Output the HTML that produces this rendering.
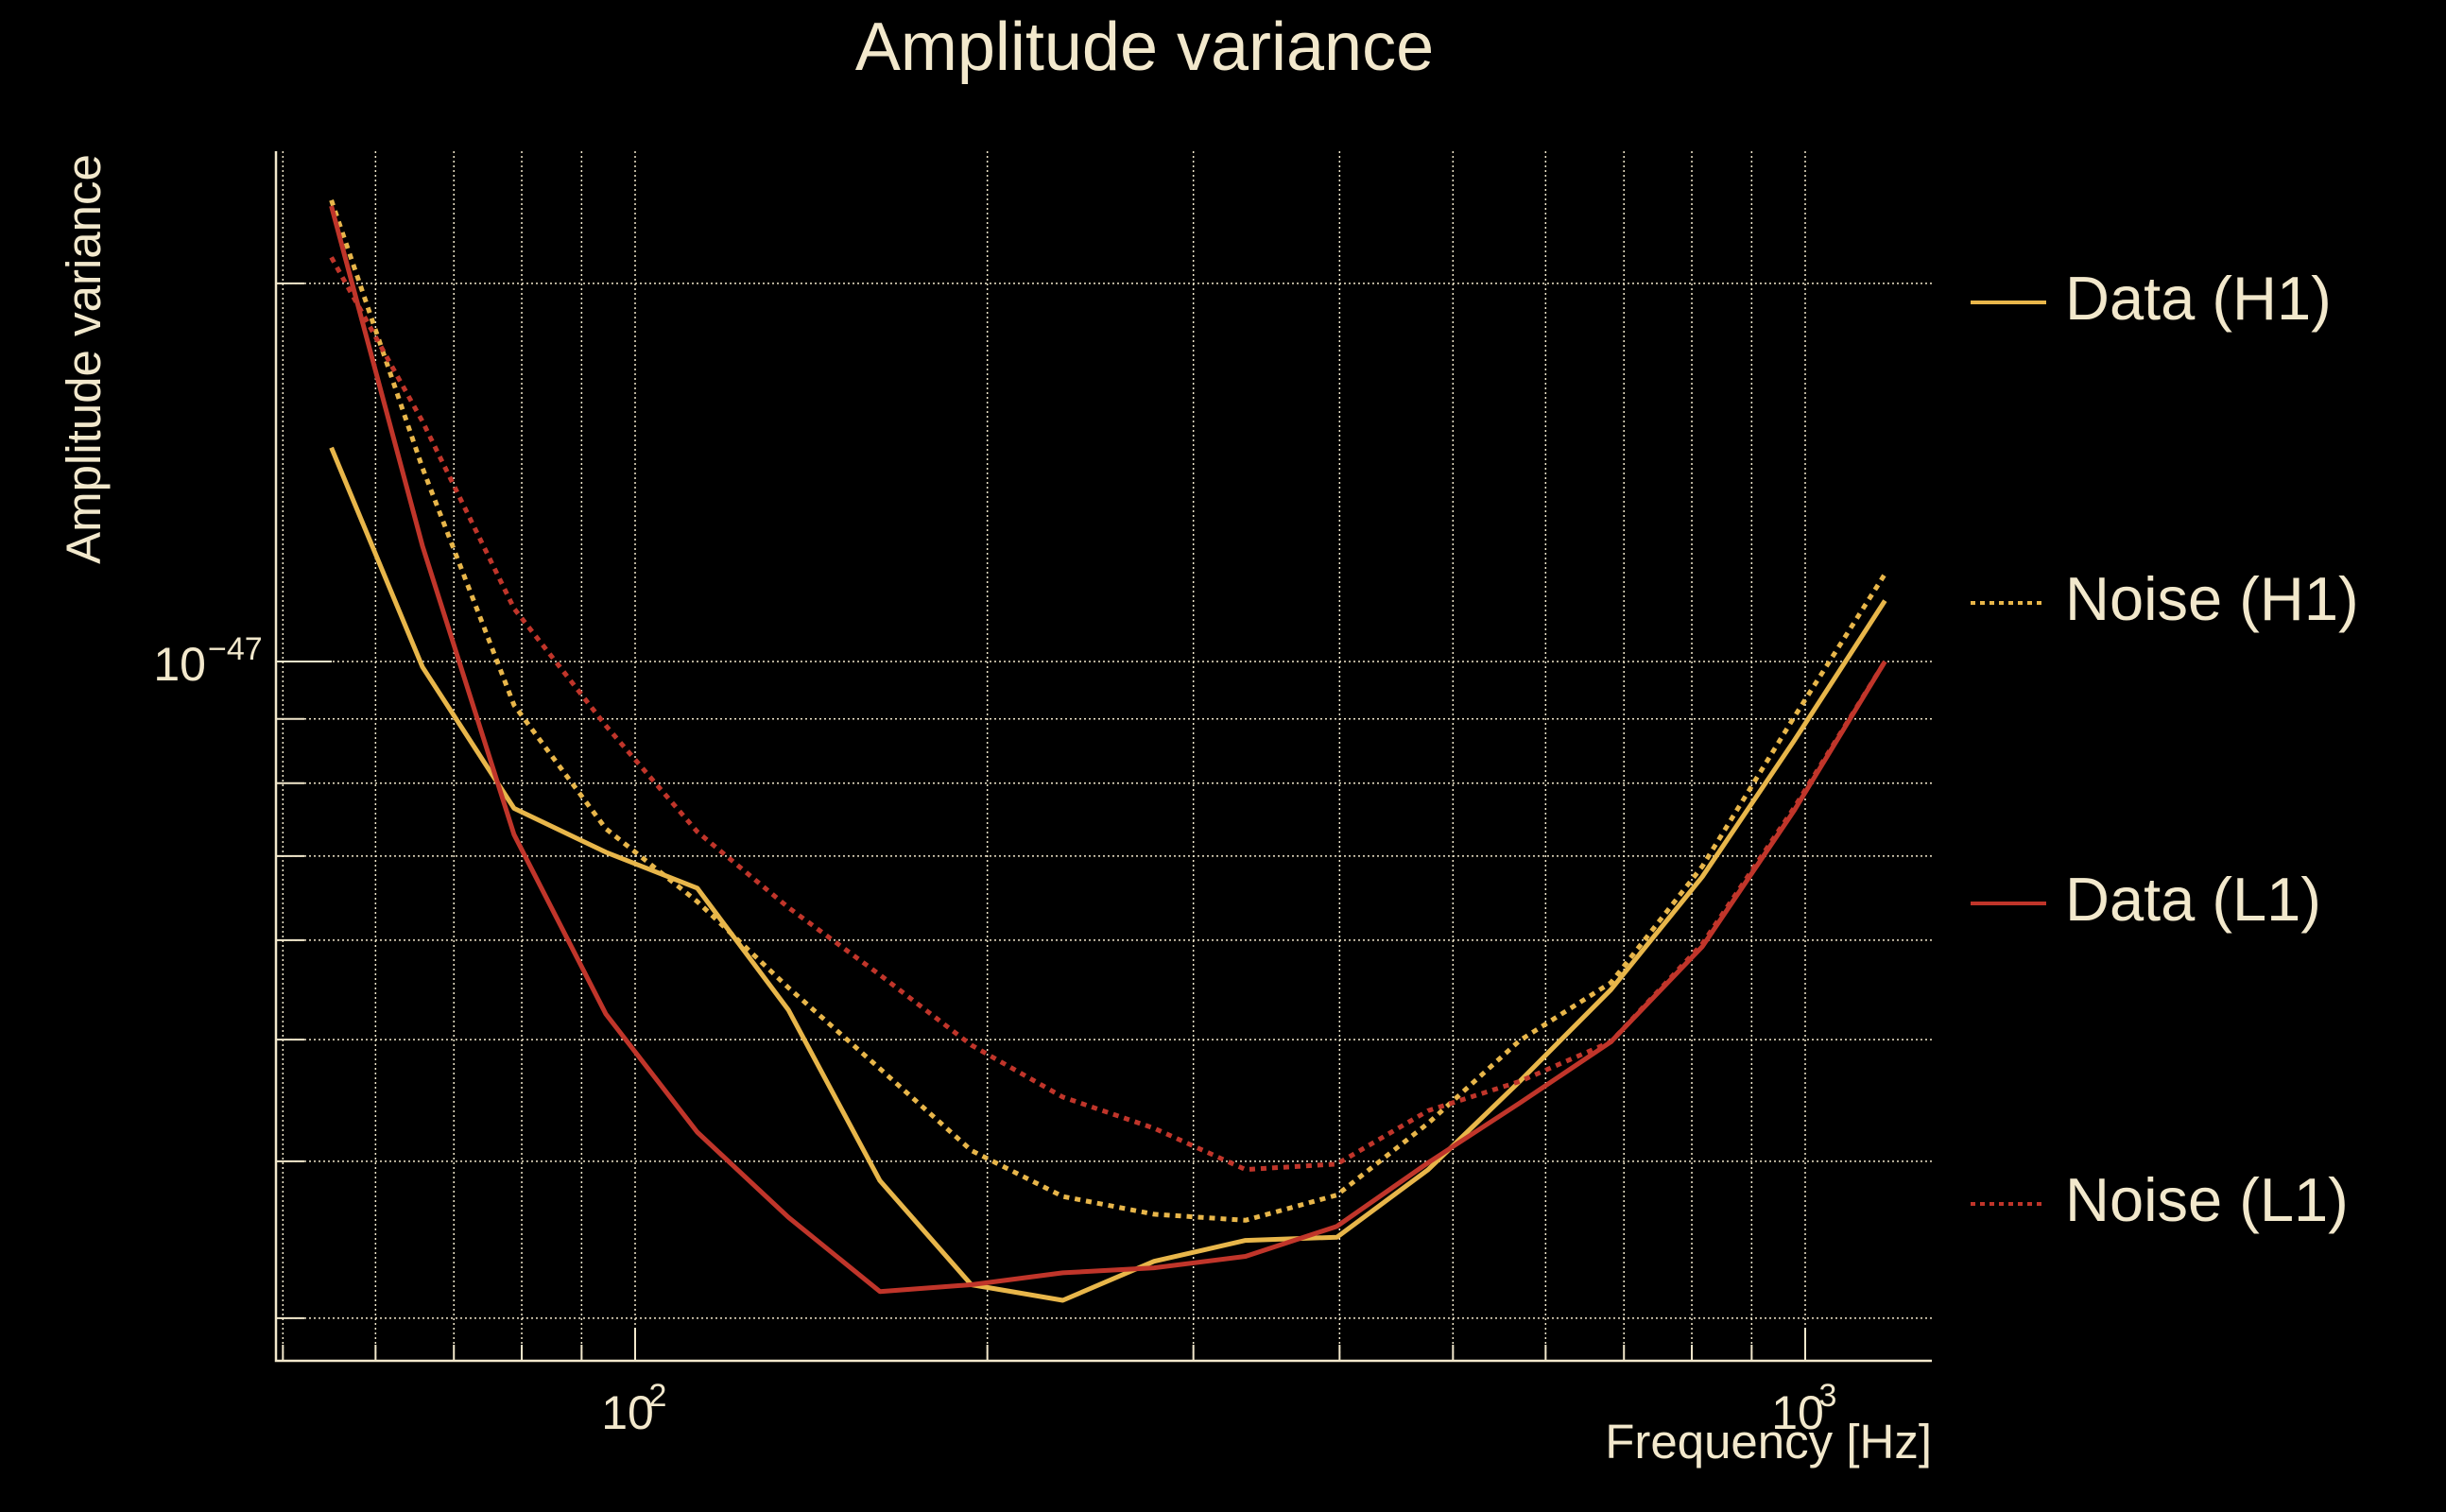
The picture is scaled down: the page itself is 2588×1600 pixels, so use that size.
<!DOCTYPE html>
<html><head><meta charset="utf-8"><style>
html,body{margin:0;padding:0;background:#000;}
svg{display:block;}
text{font-family:"Liberation Sans",sans-serif;fill:#f2e8cc;}
</style></head><body>
<svg id="chart" width="2588" height="1600" viewBox="0 0 2588 1600" xmlns="http://www.w3.org/2000/svg">
<rect width="2588" height="1600" fill="#000"/>
<text x="1211" y="74" font-size="72" text-anchor="middle">Amplitude variance</text>
<text transform="translate(106,380) rotate(-90)" font-size="51" text-anchor="middle">Amplitude variance</text>
<text x="2044" y="1543" font-size="51" text-anchor="end">Frequency [Hz]</text>
<g id="grid"></g>
<g id="axes"></g>
<g id="series"></g>
<g id="legend"></g>
</svg>
<script>
const freqs = [55, 65.8, 78.8, 94.4, 113, 135.2, 161.9, 193.8, 232, 277.7, 332.4, 397.9, 476.3, 570, 682.4, 816.8, 977.7, 1170];
const dataH1 = [1.48, 0.99, 0.764, 0.705, 0.660, 0.528, 0.386, 0.319, 0.310, 0.333, 0.346, 0.348, 0.394, 0.463, 0.548, 0.674, 0.864, 1.118];
const noiseH1 = [2.33, 1.426, 0.923, 0.736, 0.644, 0.550, 0.474, 0.408, 0.375, 0.363, 0.359, 0.376, 0.429, 0.499, 0.555, 0.687, 0.902, 1.174];
const dataL1 = [2.305, 1.236, 0.728, 0.524, 0.422, 0.361, 0.315, 0.319, 0.326, 0.329, 0.336, 0.355, 0.399, 0.445, 0.498, 0.593, 0.760, 1.0];
const noiseL1 = [2.098, 1.553, 1.102, 0.889, 0.732, 0.637, 0.563, 0.495, 0.450, 0.425, 0.394, 0.398, 0.439, 0.463, 0.498, 0.596, 0.764, 1.0];
const xTicks = [50,60,70,80,90,100,200,300,400,500,600,700,800,900,1000];
const xMajor = [100, 1000];
const xMajorLabels = ["2", "3"];
const yTicks = [0.3,0.4,0.5,0.6,0.7,0.8,0.9,1,2];
const yMajorLabel = "−47";
const seriesNames = ["Data (H1)", "Noise (H1)", "Data (L1)", "Noise (L1)"];

const NS = "http://www.w3.org/2000/svg";
const L=292,R=2044,T=160,B=1440;
function xs(f){return 672 + (Math.log10(f)-2)*1238;}
function ys(v){return 700 - Math.log10(v)*1329;}
function mk(tag, attrs, parent){const e=document.createElementNS(NS,tag);for(const k in attrs)e.setAttribute(k,attrs[k]);parent.appendChild(e);return e;}
const grid=document.getElementById('grid'), axes=document.getElementById('axes'), ser=document.getElementById('series'), leg=document.getElementById('legend');
const gc="#f2e8cc";
xTicks.forEach(f=>{
  const x=xs(f);
  const g=mk('line',{x1:x,x2:x,y1:T,y2:B,stroke:gc,'stroke-width':1.5,'stroke-dasharray':'2,3'},grid);
  
  
  const major=xMajor.includes(f);
  const t=mk('line',{x1:x,x2:x,y1:B,y2:B-(major?35:17),stroke:gc,'stroke-width':2},axes);
  
  
});
xMajor.forEach((f,i)=>{
  const t=mk('text',{x:xs(f)-8,y:1512,'font-size':50,'text-anchor':'middle'},axes);
  
  
  t.textContent='10';
  const s=mk('text',{x:xs(f)+24,y:1488,'font-size':34,'text-anchor':'middle'},axes);
  
  
  s.textContent=xMajorLabels[i];
});
yTicks.forEach(v=>{
  const y=ys(v);
  const g=mk('line',{x1:L,x2:R,y1:y,y2:y,stroke:gc,'stroke-width':1.5,'stroke-dasharray':'2,3'},grid);
  
  
  const t=mk('line',{x1:L,x2:L+(v===1?59:30),y1:y,y2:y,stroke:gc,'stroke-width':2},axes);
  
  
});
{
  const t=mk('text',{x:218,y:720,'font-size':50,'text-anchor':'end'},axes);
  
  
  t.textContent='10';
  const s=mk('text',{x:220,y:698,'font-size':34},axes);
  
  
  s.textContent=yMajorLabel;
}
const ax=mk('path',{d:`M${L},${T}V${B}H${R}`,fill:'none',stroke:gc,'stroke-width':2.5},axes);



const yel="#e8b64a", red="#c0352a";
const defs=[[dataH1,yel,null,'series-data-h1'],[noiseH1,yel,'6,6','series-noise-h1'],[dataL1,red,null,'series-data-l1'],[noiseL1,red,'6,6','series-noise-l1']];
defs.forEach(([vals,col,dash,name],i)=>{
  const d=vals.map((v,j)=>(j?'L':'M')+xs(freqs[j]).toFixed(1)+','+ys(v).toFixed(1)).join('');
  const p=mk('path',{d:d,fill:'none',stroke:col,'stroke-width':5,'stroke-linejoin':'round'},ser);
  if(dash)p.setAttribute('stroke-dasharray',dash);
  
  
  const ly=320+i*318;
  const g=mk('g',{},leg);
  
  
  const ll=mk('line',{x1:2085,x2:2165,y1:ly,y2:ly,stroke:col,'stroke-width':4},g);
  if(dash)ll.setAttribute('stroke-dasharray','5,5');
  
  
  const lt=mk('text',{x:2185,y:ly+18,'font-size':65},g);
  
  
  lt.textContent=seriesNames[i];
});
</script>
</body></html>
